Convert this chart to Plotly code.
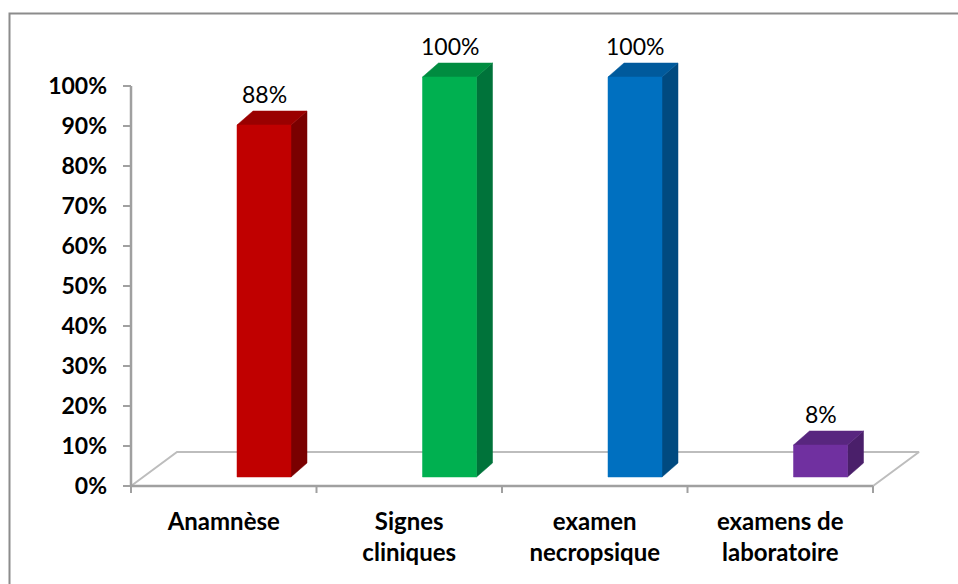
import plotly.graph_objects as go

# ---- data ----
categories = ["Anamnèse", "Signes<br>cliniques", "examen<br>necropsique", "examens de<br>laboratoire"]
values = [88, 100, 100, 8]
value_labels = ["88%", "100%", "100%", "8%"]
y_ticks = [0, 10, 20, 30, 40, 50, 60, 70, 80, 90, 100]
y_tick_labels = ["0%", "10%", "20%", "30%", "40%", "50%", "60%", "70%", "80%", "90%", "100%"]

# ---- styles ----
front_colors = ["#C00000", "#00B050", "#0070C0", "#7030A0"]
top_colors = ["#9A0000", "#008C40", "#005A9C", "#58267F"]
side_colors = ["#7A0000", "#00733A", "#004A80", "#4A1F6A"]
FONT = "Lato"

W, H = 958, 584
L, R, T, B = 120, 930, 40, 500          # plot area in pixels
X0PX, CW = 131, (873 - 131) / 4         # x axis origin px and px per category
Y0PX, PPU = 486, 4.0                     # y=0 px and px per percent

def dx(px):
    return px / CW

def dy(px):
    return px / PPU

xr = [(L - X0PX) / CW, (R - X0PX) / CW]
yr = [(Y0PX - B) / PPU, (Y0PX - T) / PPU]

BAR_OFF = (106 + 27) / CW      # bar front centre within category
BAR_W = 54 / CW
LIFT = dy(9)
BDX, BDY = dx(16), dy(14)
FDX, FDY = dx(46), dy(34)

AXIS_COL = "#A0A0A0"
FLOOR_COL = "#BDBDBD"

fig = go.Figure()
n = len(categories)

# floor
fig.add_trace(go.Scatter(
    x=[0, FDX, n + FDX, n], y=[0, FDY, FDY, 0], mode="lines",
    line=dict(color=FLOOR_COL, width=2), hoverinfo="skip", showlegend=False))

# axes
fig.add_trace(go.Scatter(x=[0, 0], y=[0, 100], mode="lines",
                         line=dict(color=AXIS_COL, width=2.5), hoverinfo="skip", showlegend=False))
fig.add_trace(go.Scatter(x=[0, n], y=[0, 0], mode="lines",
                         line=dict(color=AXIS_COL, width=2.5), hoverinfo="skip", showlegend=False))
tx, ty = [], []
for v in y_ticks:
    tx += [-dx(8), 0, None]
    ty += [v, v, None]
fig.add_trace(go.Scatter(x=tx, y=ty, mode="lines", line=dict(color=AXIS_COL, width=2),
                         hoverinfo="skip", showlegend=False))
tx, ty = [], []
for i in range(n + 1):
    tx += [i, i, None]
    ty += [0, -dy(7), None]
fig.add_trace(go.Scatter(x=tx, y=ty, mode="lines", line=dict(color=AXIS_COL, width=2),
                         hoverinfo="skip", showlegend=False))

# bars (pseudo 3D)
for i, v in enumerate(values):
    c = i + BAR_OFF
    x0, x1 = c - BAR_W / 2, c + BAR_W / 2
    yb, yt = LIFT, LIFT + v
    faces = [
        ([x1, x1 + BDX, x1 + BDX, x1, x1], [yb, yb + BDY, yt + BDY, yt, yb], side_colors[i]),
        ([x0, x0 + BDX, x1 + BDX, x1, x0], [yt, yt + BDY, yt + BDY, yt, yt], top_colors[i]),
        ([x0, x1, x1, x0, x0], [yb, yb, yt, yt, yb], front_colors[i]),
    ]
    for fx, fy, col in faces:
        fig.add_trace(go.Scatter(x=fx, y=fy, mode="lines", fill="toself", fillcolor=col,
                                 line=dict(color=col, width=0.5), hoverinfo="skip",
                                 showlegend=False))
    fig.add_annotation(x=c, y=yt, text=value_labels[i], showarrow=False,
                       yanchor="bottom", yshift=15,
                       font=dict(family=FONT, size=23, color="#000000"))

# outer border
def px2paper_x(px):
    return (px - L) / (R - L)

def px2paper_y(py):
    return (B - py) / (B - T)

fig.add_shape(type="rect", xref="paper", yref="paper",
              x0=px2paper_x(9.5), x1=px2paper_x(975), y0=px2paper_y(600), y1=px2paper_y(13.5),
              line=dict(color="#8C8C8C", width=2), fillcolor="rgba(0,0,0,0)", layer="below")

fig.update_layout(
    width=W, height=H,
    margin=dict(l=L, r=W - R, t=T, b=H - B, pad=0),
    paper_bgcolor="white", plot_bgcolor="white",
    showlegend=False,
    xaxis=dict(range=xr, tickvals=[i + 0.5 for i in range(n)], ticktext=categories,
               showgrid=False, zeroline=False, showline=False, ticks="",
               tickfont=dict(family=FONT, size=24, color="#000000", weight="bold"),
               ticklabelstandoff=5, fixedrange=True),
    yaxis=dict(range=yr, tickvals=y_ticks, ticktext=y_tick_labels,
               showgrid=False, zeroline=False, showline=False, ticks="",
               tickfont=dict(family=FONT, size=23, color="#000000", weight="bold"),
               ticklabelstandoff=12, fixedrange=True),
)

fig.write_html("out.html")
